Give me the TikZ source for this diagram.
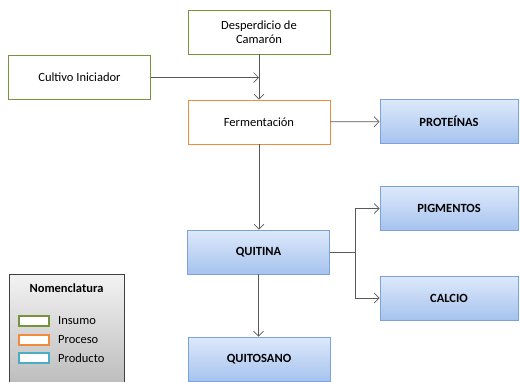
\documentclass[tikz,border=0pt]{standalone}
\usepackage{fontspec}
\setmainfont{Carlito}
\usetikzlibrary{arrows.meta,calc}

\definecolor{insumoc}{HTML}{77933C}
\definecolor{procesoc}{HTML}{F08A3C}
\definecolor{productoc}{HTML}{4BACC6}
\definecolor{azulborde}{HTML}{7BA3DA}
\definecolor{azularriba}{HTML}{DDE9FB}
\definecolor{azulabajo}{HTML}{A6C3EE}
\definecolor{flecha}{HTML}{595959}

\tikzset{
  caja/.style={draw, minimum width=142pt, minimum height=44pt, inner sep=2pt,
    align=center, font=\fontsize{12.5}{14}\selectfont},
  insumo/.style={caja, draw=insumoc, line width=0.9pt},
  proceso/.style={caja, draw=procesoc, line width=0.9pt},
  producto/.style={caja, draw=azulborde, line width=0.9pt,
    top color=azularriba, bottom color=azulabajo,
    font=\fontsize{12.5}{14}\selectfont\bfseries},
  flechita/.style={draw=flecha, line width=0.7pt,
    -{Straight Barb[length=5pt,width=10pt]}},
  muestra/.style={line width=1.2pt, fill=white, minimum width=30pt,
    minimum height=10pt, inner sep=0pt},
  etiqueta/.style={anchor=west, font=\fontsize{12.5}{14}\selectfont},
}

\begin{document}
\begin{tikzpicture}[x=1pt,y=-1pt]
  \useasboundingbox (0,0) rectangle (520,381);
  \clip (0,0) rectangle (520,381);

  % Insumos
  \node[insumo] (desperdicio) at (259,32) {Desperdicio de\\Camarón};
  \node[insumo] (cultivo) at (79.5,77.5) {Cultivo Iniciador};

  % Proceso
  \node[proceso] (fermentacion) at (259,122) {Fermentación};

  % Productos
  \node[producto, minimum width=138pt] (proteinas) at (449,121.5) {PROTEÍNAS};
  \node[producto] (quitina) at (258.5,252) {QUITINA};
  \node[producto, minimum width=138pt] (pigmentos) at (449,208.5) {PIGMENTOS};
  \node[producto, minimum width=138pt] (calcio) at (449,298) {CALCIO};
  \node[producto] (quitosano) at (259,359) {QUITOSANO};

  % Conexiones
  \draw[flechita] (desperdicio) -- (fermentacion);
  \coordinate (union) at (cultivo.east -| desperdicio.south);
  \draw[flechita] (cultivo) -- (union);
  \draw[flechita] (fermentacion) -- (proteinas);
  \draw[flechita] (fermentacion.south) -- (fermentacion.south |- quitina.north);
  \draw[flechita] (quitina.south) -- (quitina.south |- quitosano.north);
  \coordinate (rama) at ($(quitina.east)+(25,0)$);
  \draw[draw=flecha, line width=0.7pt] (quitina) -- (rama);
  \draw[flechita] (rama) |- (pigmentos);
  \draw[flechita] (rama) |- (calcio);

  % Nomenclatura
  \node[draw=black!75, line width=0.9pt, top color=black!5, bottom color=black!27,
    minimum width=115pt, minimum height=115pt, anchor=north west]
    (leyenda) at (9,274) {};
  \node[font=\fontsize{12.5}{14}\selectfont\bfseries] (titulo) at (66.5,288) {Nomenclatura};
  \node[muestra, draw=insumoc] (minsumo) at (34,321) {};
  \node[muestra, draw=procesoc] (mproceso) at (34,340) {};
  \node[muestra, draw=productoc] (mproducto) at (34,358) {};
  \node[etiqueta] at ($(minsumo.east)+(5,0)$) {Insumo};
  \node[etiqueta] at ($(mproceso.east)+(5,0)$) {Proceso};
  \node[etiqueta] at ($(mproducto.east)+(5,0)$) {Producto};
\end{tikzpicture}
\end{document}
